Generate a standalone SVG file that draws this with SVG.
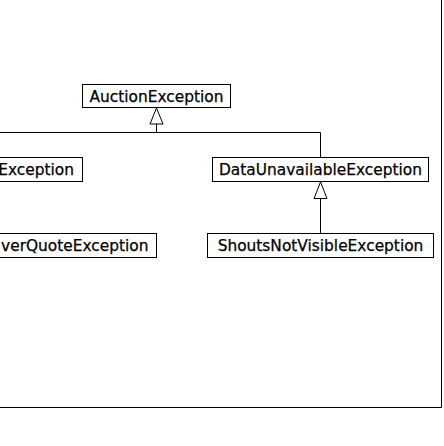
<svg xmlns="http://www.w3.org/2000/svg" width="444" height="446" viewBox="0 0 444 446">
<style>
.box{fill:#fff;stroke:#000;stroke-width:1}
.lbl{font-family:"DejaVu Sans",sans-serif;font-size:15.4px;fill:#000;stroke:#000;stroke-width:0.25}
.ln{fill:none;stroke:#000;stroke-width:1}
.tri{fill:#fff;stroke:#000;stroke-width:1}
</style>
<rect width="444" height="446" fill="#fff"/>
<g id="frame">
<path class="ln" d="M441.5,0 V407.5 H0"/>
</g>
<g id="connectors">
<path class="ln" d="M156.5,124 V132.5 M0,132.5 H320.5 V157.5"/>
<polygon class="tri" points="156.5,108 150,124 163,124"/>
<path class="ln" d="M320.5,198.5 V233.5"/>
<polygon class="tri" points="320.5,182 314,198.5 327,198.5"/>
</g>
<g id="AuctionException">
<rect class="box" x="82.5" y="84.5" width="148" height="23"/>
<text class="lbl" x="156.5" y="101.5" text-anchor="middle">AuctionException</text>
</g>
<g id="Exception">
<rect class="box" x="-10" y="157.5" width="92.5" height="24"/>
<text class="lbl" x="74" y="175" text-anchor="end">Exception</text>
</g>
<g id="DataUnavailableException">
<rect class="box" x="212.5" y="157.5" width="216" height="24"/>
<text class="lbl" x="320.5" y="175" text-anchor="middle">DataUnavailableException</text>
</g>
<g id="OverQuoteException">
<rect class="box" x="-10" y="233.5" width="166.5" height="24"/>
<text class="lbl" x="148.5" y="251" text-anchor="end">verQuoteException</text>
</g>
<g id="ShoutsNotVisibleException">
<rect class="box" x="207.5" y="233.5" width="226" height="24"/>
<text class="lbl" x="320.5" y="251" text-anchor="middle">ShoutsNotVisibleException</text>
</g>
</svg>
